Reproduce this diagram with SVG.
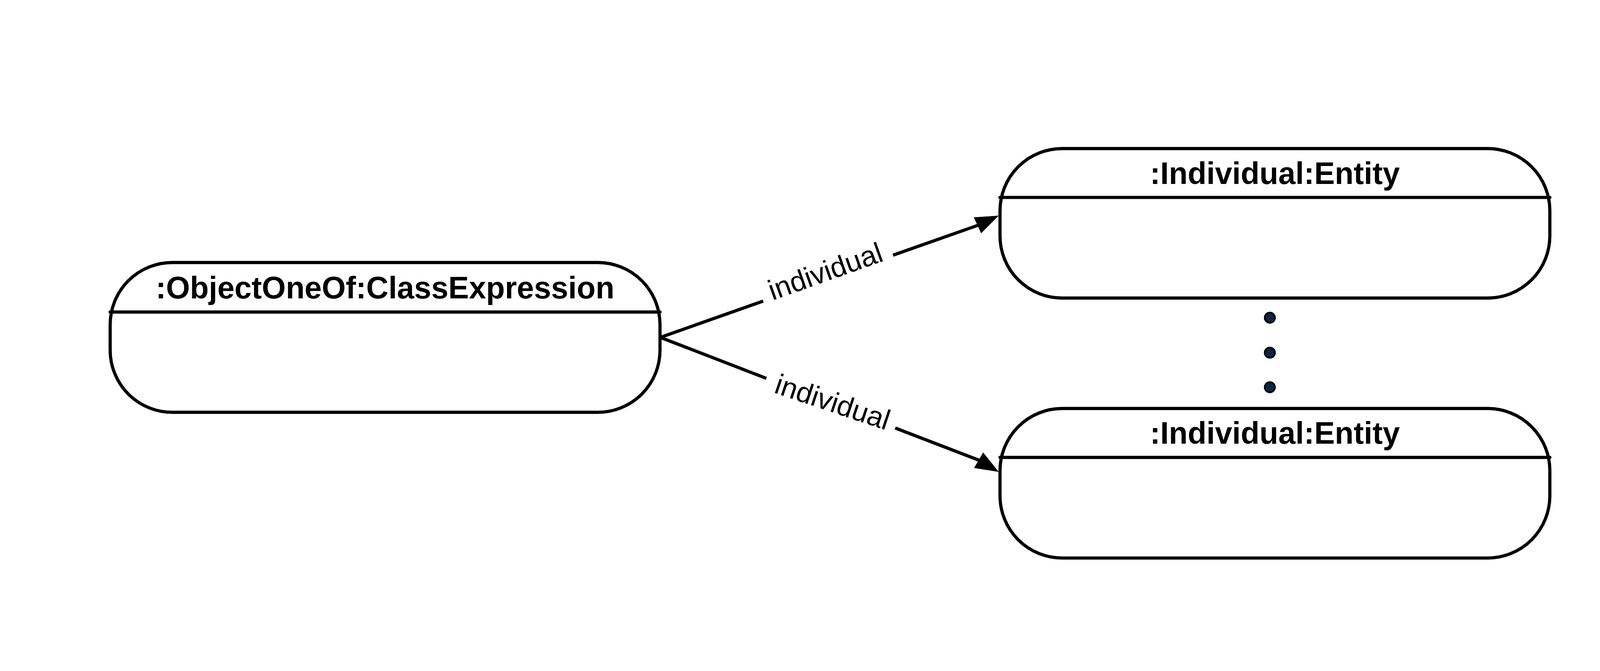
<svg xmlns="http://www.w3.org/2000/svg" width="5040" height="1718" viewBox="0 0 5040 1718">
  <style>
    svg { width: 100vw; height: 100vh; }
    .box { fill: #ffffff; stroke: #000000; stroke-width: 10; }
    .div { stroke: #000000; stroke-width: 10; stroke-linecap: round; fill: none; }
    .title { font-family: "Liberation Sans", Arial, Helvetica, sans-serif; font-weight: bold; font-size: 97px; fill: #000000; text-anchor: middle; }
    .conn { stroke: #000000; stroke-width: 10; fill: none; stroke-linecap: butt; }
    .head { fill: #000000; stroke: #000000; stroke-width: 1; stroke-linejoin: miter; }
    .lbl { font-family: "Liberation Sans", Arial, Helvetica, sans-serif; font-size: 90px; fill: #000000; text-anchor: middle; }
    .dot { fill: #0b2545; stroke: #000000; stroke-width: 5.5; }
  </style>
  <rect x="0" y="0" width="5040" height="1718" fill="#ffffff"/>

  <g id="connectors">
    <g id="edge-upper">
      <line class="conn" x1="2080" y1="865" x2="2404" y2="750.5"/>
      <line class="conn" x1="2813" y1="606" x2="3080" y2="512"/>
      <polygon class="head" points="3145,482 3068.3,487.2 3090.7,536.4"/>
      <text class="lbl" transform="translate(2610,686) rotate(-19.6)" x="0" y="0">individual</text>
    </g>
    <g id="edge-lower">
      <line class="conn" x1="2080" y1="865" x2="2414" y2="994"/>
      <line class="conn" x1="2820" y1="1150.5" x2="3084" y2="1252"/>
      <polygon class="head" points="3145,1288 3069,1276 3097,1228"/>
      <text class="lbl" transform="translate(2613,1098) rotate(18.5)" x="0" y="0">individual</text>
    </g>
  </g>

  <g id="node-objectoneof">
    <rect class="box" x="347" y="629" width="1732" height="472" rx="196" ry="196"/>
    <line class="div" x1="347" y1="785" x2="2079" y2="785"/>
    <text class="title" x="1213" y="742">:ObjectOneOf:ClassExpression</text>
  </g>

  <g id="node-individual-1">
    <rect class="box" x="3150" y="270" width="1732" height="471" rx="196" ry="196"/>
    <line class="div" x1="3150" y1="424" x2="4882" y2="424"/>
    <text class="title" x="4016" y="381">:Individual:Entity</text>
  </g>

  <g id="node-individual-2">
    <rect class="box" x="3150" y="1089" width="1732" height="471" rx="196" ry="196"/>
    <line class="div" x1="3150" y1="1243" x2="4882" y2="1243"/>
    <text class="title" x="4016" y="1200">:Individual:Entity</text>
  </g>

  <g id="ellipsis">
    <circle class="dot" cx="4000" cy="803" r="16"/>
    <circle class="dot" cx="4000" cy="913" r="16"/>
    <circle class="dot" cx="4000" cy="1022" r="16"/>
  </g>
</svg>
